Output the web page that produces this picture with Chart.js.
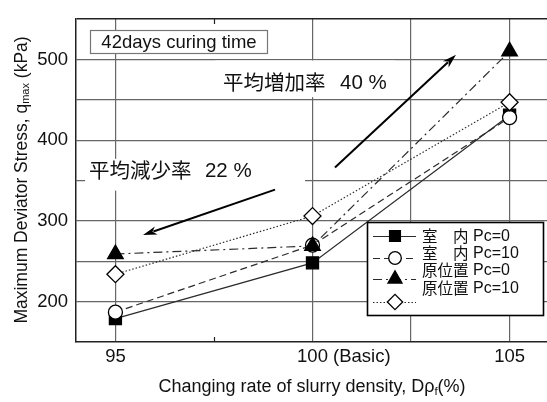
<!DOCTYPE html>
<html>
<head>
<meta charset="utf-8">
<script src="https://cdn.jsdelivr.net/npm/chart.js@4/dist/chart.umd.min.js"></script>
<style>
  html, body { margin: 0; padding: 0; background: #fff; overflow: hidden; width: 547px; height: 402px; }
  canvas { display: block; }
</style>
</head>
<body>
<canvas id="c" width="549" height="402"></canvas>
<script>
// Slurry density change (%) and peak deviator stress q_max (kPa), 42 days curing
const densityRates = [95, 100, 105];
const labPc0     = [179, 248, 431];
const labPc10    = [187, 270, 428];
const fieldPc0   = [259, 269, 510];
const fieldPc10  = [234, 306, 447];

const seriesNames = ['室　内', '室　内', '原位置', '原位置'];
const seriesPc    = ['Pc=0', 'Pc=10', 'Pc=0', 'Pc=10'];

const xTickValues = [95, 100, 105];
const xTickLabels = ['95', '100 (Basic)', '105'];
const yTickValues = [200, 300, 400, 500];
const yTickLabels = ['200', '300', '400', '500'];
const xGridValues = [94, 95, 97.5, 100, 102.5, 105, 106];
const xMinorTicks = [97.5];

const FONT = '"Liberation Sans", Arial, "Noto Sans CJK JP", sans-serif';
const INK = '#111';
const LINE = '#2b2b2b';
const GRID = '#666';

// annotation texts, boxes and arrows, placed in data units
const notes = {
  curing: { x0: 94.355, x1: 98.845, y0: 536.9, y1: 508.2, text: '42days curing time' },
  rise:   { box: [97.53, 102.09, 498.7, 453.3], x: 97.73, xPct: 100.70, y: 471.8, name: '平均増加率', pct: '40 %',
            arrow: [100.57, 366.1, 103.64, 505.8] },
  fall:   { box: [94.23, 99.81, 376.9, 337.5], x: 94.33, xPct: 97.27, y: 362.5, name: '平均減少率', pct: '22 %',
            arrow: [99.05, 338.7, 95.70, 282.5] }
};

// legend layout (pixels)
const legendBox = { left: 367, top: 222, right: 543, bottom: 315 };
const legendMarkX = 395, legendLineX0 = 373, legendLineX1 = 416;
const legendMarkY = [236, 258, 279, 302];
const legendTextX = 422, legendPcX = 473;
const legendTextY = [236, 253, 270, 288];

const styles = [
  { pointStyle: 'rect',     radius: 8.5, fill: '#000', dash: [] },
  { pointStyle: 'circle',   radius: 7,   fill: '#fff', dash: [7, 4] },
  { pointStyle: 'triangle', radius: 9,   fill: '#000', dash: [9, 4, 2, 4] },
  { pointStyle: 'rectRot',  radius: 8.5, fill: '#fff', dash: [1.5, 2] }
];

const series = [labPc0, labPc10, fieldPc0, fieldPc10];

const datasets = series.map((vals, i) => ({
  label: seriesNames[i] + ' ' + seriesPc[i],
  data: densityRates.map((x, k) => ({ x: x, y: vals[k] })),
  borderColor: LINE,
  borderWidth: 1.2,
  borderDash: styles[i].dash,
  pointStyle: styles[i].pointStyle,
  pointRadius: styles[i].radius,
  pointHoverRadius: styles[i].radius,
  pointBackgroundColor: styles[i].fill,
  pointBorderColor: '#000',
  pointBorderWidth: 1.3,
  tension: 0,
  fill: false,
  order: 4 - i
}));

function drawRich(ctx, parts, cx, cy) {
  // parts: [{t, size, dy}] drawn left-to-right, centred on (cx, cy)
  let total = 0;
  parts.forEach(p => { ctx.font = p.size + 'px ' + FONT; p.w = ctx.measureText(p.t).width; total += p.w; });
  let x = cx - total / 2;
  ctx.textAlign = 'left';
  ctx.textBaseline = 'middle';
  parts.forEach(p => {
    ctx.font = p.size + 'px ' + FONT;
    ctx.fillText(p.t, x, cy + (p.dy || 0));
    x += p.w;
  });
}

function arrow(ctx, x0, y0, x1, y1) {
  const ang = Math.atan2(y1 - y0, x1 - x0);
  const len = 14, half = 4.2;
  const bx = x1 - len * Math.cos(ang), by = y1 - len * Math.sin(ang);
  ctx.save();
  ctx.strokeStyle = '#000';
  ctx.fillStyle = '#000';
  ctx.lineWidth = 2;
  ctx.beginPath();
  ctx.moveTo(x0, y0);
  ctx.lineTo(bx + 3 * Math.cos(ang), by + 3 * Math.sin(ang));
  ctx.stroke();
  ctx.beginPath();
  ctx.moveTo(x1, y1);
  ctx.lineTo(bx - half * Math.sin(ang), by + half * Math.cos(ang));
  ctx.lineTo(bx + 4 * Math.cos(ang), by + 4 * Math.sin(ang));
  ctx.lineTo(bx + half * Math.sin(ang), by - half * Math.cos(ang));
  ctx.closePath();
  ctx.fill();
  ctx.restore();
}

const decor = {
  id: 'decor',
  beforeDatasetsDraw(chart) {
    const { ctx, scales: { x, y }, chartArea } = chart;
    ctx.save();
    // minor inward ticks on the density axis
    ctx.strokeStyle = '#222';
    ctx.lineWidth = 1.2;
    xMinorTicks.forEach(v => {
      const px = Math.round(x.getPixelForValue(v)) + 0.5;
      ctx.beginPath();
      ctx.moveTo(px, chartArea.bottom); ctx.lineTo(px, chartArea.bottom - 5);
      ctx.moveTo(px, chartArea.top); ctx.lineTo(px, chartArea.top + 5);
      ctx.stroke();
    });
    // white panels behind the annotation texts
    ctx.fillStyle = '#fff';
    [notes.rise.box, notes.fall.box].forEach(b => {
      const l = x.getPixelForValue(b[0]), r = x.getPixelForValue(b[1]);
      const t = y.getPixelForValue(b[2]), btm = y.getPixelForValue(b[3]);
      ctx.fillRect(l, t, r - l, btm - t);
    });
    // curing time label box
    const c = notes.curing;
    const cl = Math.round(x.getPixelForValue(c.x0)) + 0.5, cr = Math.round(x.getPixelForValue(c.x1)) + 0.5;
    const ct = Math.round(y.getPixelForValue(c.y0)) + 0.5, cb = Math.round(y.getPixelForValue(c.y1)) + 0.5;
    ctx.fillRect(cl, ct, cr - cl, cb - ct);
    ctx.strokeStyle = '#777';
    ctx.lineWidth = 1.2;
    ctx.strokeRect(cl, ct, cr - cl, cb - ct);
    ctx.fillStyle = INK;
    ctx.font = '18.5px ' + FONT;
    ctx.textAlign = 'center';
    ctx.textBaseline = 'middle';
    ctx.fillText(c.text, (cl + cr) / 2, (ct + cb) / 2 + 1);

    // percentage notes
    [notes.rise, notes.fall].forEach(n => {
      const py = y.getPixelForValue(n.y);
      ctx.textAlign = 'left';
      ctx.font = '20.5px "Noto Sans CJK JP", sans-serif';
      ctx.fillText(n.name, x.getPixelForValue(n.x), py);
      ctx.font = '20.5px ' + FONT;
      ctx.fillText(n.pct, x.getPixelForValue(n.xPct), py + 1);
    });
    ctx.restore();
  },
  afterDatasetsDraw(chart) {
    const { ctx, scales: { x, y } } = chart;
    ctx.save();
    [notes.rise.arrow, notes.fall.arrow].forEach(a => {
      arrow(ctx, x.getPixelForValue(a[0]), y.getPixelForValue(a[1]),
                 x.getPixelForValue(a[2]), y.getPixelForValue(a[3]));
    });

    // density tick labels: the number part is centred on its tick
    ctx.fillStyle = INK;
    ctx.font = '18.5px ' + FONT;
    ctx.textAlign = 'left';
    ctx.textBaseline = 'middle';
    xTickValues.forEach((v, i) => {
      const numW = ctx.measureText(String(v)).width;
      ctx.fillText(xTickLabels[i], x.getPixelForValue(v) - numW / 2, 357);
    });

    // axis titles
    drawRich(ctx, [
      { t: 'Changing rate of slurry density, D\u03c1', size: 18 },
      { t: 'f', size: 11.5, dy: 5 },
      { t: '(%)', size: 18 }
    ], 312, 387);
    ctx.save();
    ctx.translate(22, 180);
    ctx.rotate(-Math.PI / 2);
    drawRich(ctx, [
      { t: 'Maximum Deviator Stress, q', size: 17.5 },
      { t: 'max', size: 11, dy: 4 },
      { t: ' (kPa)', size: 17.5 }
    ], 0, 0);
    ctx.restore();

    // legend
    const lb = legendBox;
    ctx.fillStyle = '#fff';
    ctx.fillRect(lb.left, lb.top, lb.right - lb.left, lb.bottom - lb.top);
    ctx.strokeStyle = '#000';
    ctx.lineWidth = 1.6;
    ctx.strokeRect(lb.left + 0.5, lb.top + 0.5, lb.right - lb.left, lb.bottom - lb.top);
    styles.forEach((s, i) => {
      const my = legendMarkY[i];
      ctx.save();
      ctx.strokeStyle = LINE;
      ctx.lineWidth = 1.2;
      ctx.setLineDash(s.dash);
      ctx.beginPath();
      ctx.moveTo(legendLineX0, my + 0.5);
      ctx.lineTo(legendLineX1, my + 0.5);
      ctx.stroke();
      ctx.restore();
      ctx.save();
      ctx.fillStyle = s.fill;
      ctx.strokeStyle = '#000';
      ctx.lineWidth = 1.3;
      Chart.helpers.drawPoint(ctx, { pointStyle: s.pointStyle, radius: s.radius * 0.9, rotation: 0, borderWidth: 1.3 }, legendMarkX, my);
      ctx.restore();
      ctx.fillStyle = INK;
      ctx.textAlign = 'left';
      ctx.textBaseline = 'middle';
      ctx.font = '15.5px "Noto Sans CJK JP", sans-serif';
      ctx.fillText(seriesNames[i], legendTextX, legendTextY[i]);
      ctx.font = '16px ' + FONT;
      ctx.fillText(seriesPc[i], legendPcX, legendTextY[i] + 1);
    });
    ctx.restore();
  }
};

new Chart(document.getElementById('c'), {
  type: 'line',
  data: { datasets: datasets },
  options: {
    responsive: false,
    animation: false,
    devicePixelRatio: 1,
    layout: { autoPadding: false, padding: { top: 7, left: 0, right: 0, bottom: 0 } },
    plugins: { legend: { display: false }, tooltip: { enabled: false } },
    scales: {
      x: {
        type: 'linear',
        min: 94,
        max: 106,
        afterBuildTicks: s => { s.ticks = xGridValues.map(v => ({ value: v })); },
        afterFit: s => { s.height = 60; },
        ticks: { display: false },
        grid: {
          drawTicks: false,
          lineWidth: 1.2,
          color: c => {
            const v = c.tick ? c.tick.value : null;
            return (v === 94 || v === 106 || xMinorTicks.includes(v)) ? 'rgba(0,0,0,0)' : GRID;
          }
        },
        border: { display: true, color: '#222', width: 1.5 }
      },
      y: {
        type: 'linear',
        min: 150,
        max: 550,
        afterFit: s => { s.width = 76; },
        ticks: {
          stepSize: 50,
          padding: 8,
          color: INK,
          font: { family: FONT, size: 18.5 },
          callback: v => {
            const i = yTickValues.indexOf(v);
            return i >= 0 ? yTickLabels[i] : '';
          }
        },
        grid: {
          drawTicks: false,
          lineWidth: c => (c.tick && c.tick.value === 550) ? 1.5 : 1.2,
          color: c => {
            const v = c.tick ? c.tick.value : null;
            if (v === 150) return 'rgba(0,0,0,0)';
            if (v === 550) return '#222';
            return GRID;
          }
        },
        border: { display: true, color: '#222', width: 1.5 }
      }
    }
  },
  plugins: [decor]
});
</script>
</body>
</html>
